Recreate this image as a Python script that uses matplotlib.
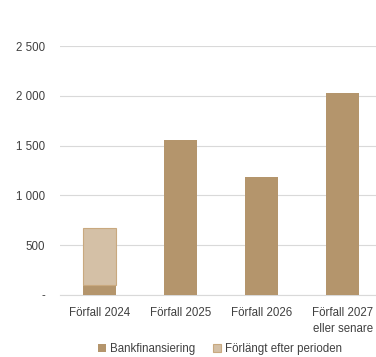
import matplotlib.pyplot as plt
import numpy as np

plt.rcParams['font.family'] = ['Liberation Sans', 'DejaVu Sans']

categories = ['Förfall 2024', 'Förfall 2025', 'Förfall 2026', 'Förfall 2027\neller senare']
bank = [100, 1560, 1185, 2025]
extended = [575, 0, 0, 0]
yticks = [0, 500, 1000, 1500, 2000, 2500]
ylabels = ['-', '500', '1 000', '1 500', '2 000', '2 500']

c_bank = '#B4956C'
c_ext = '#D4C0A6'
txt = '#404040'

fig = plt.figure(figsize=(3.76, 3.57), dpi=100)
ax = fig.add_axes([0.16, 0.174, 0.84, 0.697])

x = np.arange(len(categories))
ax.bar(x, bank, width=0.41, color=c_bank, label='Bankfinansiering', zorder=3)
ext_x = [i for i, v in enumerate(extended) if v > 0]
ax.bar(ext_x, [extended[i] for i in ext_x], bottom=[bank[i] for i in ext_x],
       width=0.41, color=c_ext, edgecolor='#C9A97F', linewidth=0.8,
       label='Förlängt efter perioden', zorder=3)

ax.set_xlim(-0.49, 3.41)
ax.set_ylim(0, 2500)
ax.set_yticks(yticks)
ax.set_yticklabels(ylabels)
ax.yaxis.grid(True, color='#D9D9D9', linewidth=0.8, zorder=0)
ax.set_xticks(x)
ax.set_xticklabels(categories, linespacing=1.45)
ax.tick_params(axis='both', length=0, labelsize=8.3, colors=txt)
ax.tick_params(axis='y', pad=11)
ax.tick_params(axis='x', pad=9)
for s in ['top', 'right', 'left']:
    ax.spines[s].set_visible(False)
ax.spines['bottom'].set_color('#D9D9D9')
ax.spines['bottom'].set_linewidth(0.8)

# reference legend sits right at the bottom edge; keep it just inside
fig.legend(loc='center', bbox_to_anchor=(0.585, 1 - 349 / 357), ncol=2,
           frameon=False, fontsize=8.3, handlelength=0.7, handleheight=0.7,
           columnspacing=1.6, handletextpad=0.3, labelcolor=txt)

fig.savefig('out.png', dpi=100)
